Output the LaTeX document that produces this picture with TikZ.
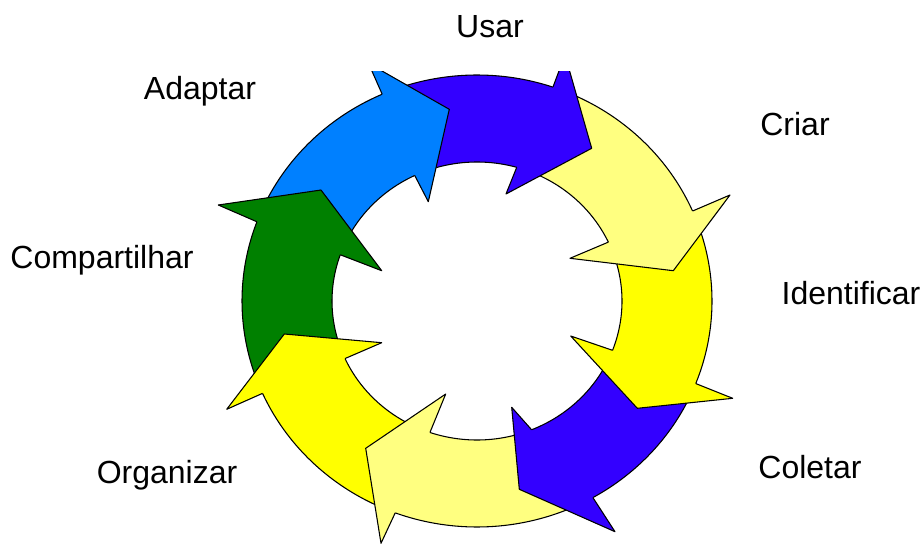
\documentclass[tikz,border=0pt]{standalone}
\usepackage{fontspec}
\setmainfont{Liberation Sans}
\definecolor{cBlue}{RGB}{0,128,255}
\definecolor{cPurple}{RGB}{51,0,255}
\definecolor{cLight}{RGB}{255,255,128}
\definecolor{cYellow}{RGB}{255,255,0}
\definecolor{cGreen}{RGB}{0,128,0}
% #1 colour, #2 prevAo, #3 prevAi, #4 prevT, #5 ao, #6 ai, #7 BO, #8 T, #9 BI
\newcommand\arrowfill[9]{%
  \fill[#1] #4 -- plot[domain=#2:#5,samples=40] ({477+235*cos(\x)},{301+226*sin(\x)})
    -- #7 -- #8 -- #9
    -- plot[domain=#6:#3,samples=40] ({477+145*cos(\x)},{301+139*sin(\x)}) -- cycle;}
% #1 prevAo, #2 prevAi, #3 ao, #4 ai
\newcommand\bodyarcs[4]{%
  \draw[edge] plot[domain=#1:#3,samples=40] ({477+235*cos(\x)},{301+226*sin(\x)});
  \draw[edge] plot[domain=#2:#4,samples=40] ({477+145*cos(\x)},{301+139*sin(\x)});}
% #1 colour, #2 ao, #3 ai, #4 BO, #5 T, #6 BI
\newcommand\headfill[6]{%
  \fill[#1] ({477+235*cos(#2)},{301+226*sin(#2)}) -- #4 -- #5 -- #6
    -- ({477+145*cos(#3)},{301+139*sin(#3)}) -- cycle;
  \draw[edge] ({477+235*cos(#2)},{301+226*sin(#2)}) -- #4 -- #5 -- #6
    -- ({477+145*cos(#3)},{301+139*sin(#3)});}
\begin{document}
\begin{tikzpicture}[x=0.75pt,y=-0.75pt,
  edge/.style={draw=black,line width=0.8pt,line join=round},
  lbl/.style={anchor=base,inner sep=0pt,font=\fontsize{24}{28}\selectfont}]
\useasboundingbox (0,0) rectangle (923,545);
\begin{scope}
\clip (0,72) rectangle (923,545);
% pass 1: full arrows
\arrowfill{cYellow}{-23.46}{-25.06}{(673.3,270.7)}{21.43}{20.78}{(732.7,398.3)}{(637.3,408.3)}{(570.7,336)}
\arrowfill{cPurple}{21.43}{20.78}{(637.3,408.3)}{60.45}{67.88}{(615,531.7)}{(519.3,489.3)}{(511.7,407.3)}
\arrowfill{cLight}{60.45}{67.88}{(519.3,489.3)}{110.37}{108.94}{(381,543.3)}{(365.7,448.3)}{(445.7,394)}
\arrowfill{cYellow}{110.37}{108.94}{(365.7,448.3)}{155.88}{155.54}{(226.7,409.3)}{(284.3,334)}{(381.7,342.7)}
\arrowfill{cGreen}{155.88}{155.54}{(284.3,334)}{200.52}{199.43}{(218.3,205)}{(321,190)}{(381.7,270.7)}
\arrowfill{cBlue}{200.52}{199.43}{(321,190)}{246.2}{244.57}{(368.5,63.3)}{(449.3,109.3)}{(428.3,201.7)}
\arrowfill{cPurple}{246.2}{244.57}{(449.3,109.3)}{288.85}{285.9}{(565,55)}{(591.7,148.3)}{(506,194)}
\arrowfill{cLight}{288.85}{285.9}{(591.7,148.3)}{336.54}{334.94}{(730,195)}{(673.3,270.7)}{(570,258.3)}
% pass 2: body arcs
\bodyarcs{-23.46}{-25.06}{21.43}{20.78}
\bodyarcs{21.43}{20.78}{60.45}{67.88}
\bodyarcs{60.45}{67.88}{110.37}{108.94}
\bodyarcs{110.37}{108.94}{155.88}{155.54}
\bodyarcs{155.88}{155.54}{200.52}{199.43}
\bodyarcs{200.52}{199.43}{246.2}{244.57}
\bodyarcs{246.2}{244.57}{288.85}{285.9}
\bodyarcs{288.85}{285.9}{336.54}{334.94}
% pass 3: heads on top
\headfill{cYellow}{21.43}{20.78}{(732.7,398.3)}{(637.3,408.3)}{(570.7,336)}
\headfill{cPurple}{60.45}{67.88}{(615,531.7)}{(519.3,489.3)}{(511.7,407.3)}
\headfill{cLight}{110.37}{108.94}{(381,543.3)}{(365.7,448.3)}{(445.7,394)}
\headfill{cYellow}{155.88}{155.54}{(226.7,409.3)}{(284.3,334)}{(381.7,342.7)}
\headfill{cGreen}{200.52}{199.43}{(218.3,205)}{(321,190)}{(381.7,270.7)}
\headfill{cBlue}{246.2}{244.57}{(368.5,63.3)}{(449.3,109.3)}{(428.3,201.7)}
\headfill{cPurple}{288.85}{285.9}{(565,55)}{(591.7,148.3)}{(506,194)}
\headfill{cLight}{336.54}{334.94}{(730,195)}{(673.3,270.7)}{(570,258.3)}
\end{scope}
\node[lbl] (usar) at (490,38) {Usar};
\node[lbl] (criar) at (795,136) {Criar};
\node[lbl] (ident) at (851,304) {Identificar};
\node[lbl] (colet) at (810,478) {Coletar};
\node[lbl] (organ) at (167,483) {Organizar};
\node[lbl] (compa) at (102,268) {Compartilhar};
\node[lbl] (adapt) at (200,100) {Adaptar};
\end{tikzpicture}
\end{document}
